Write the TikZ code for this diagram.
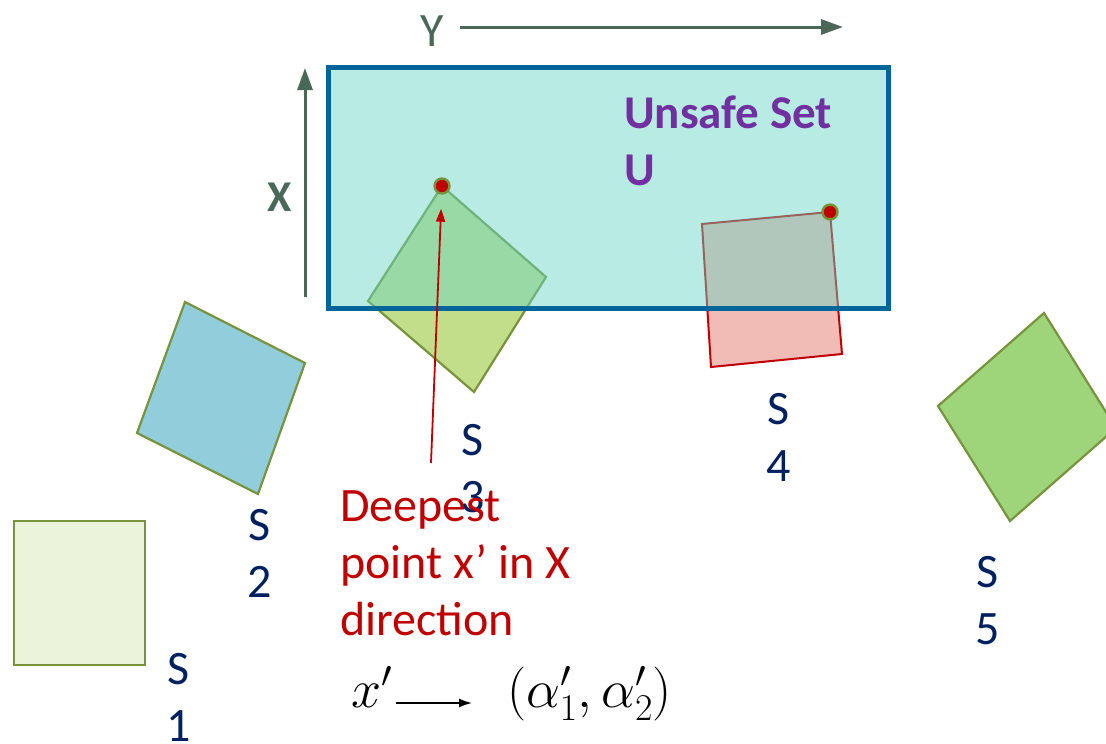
\RequirePackage{fix-cm}
\documentclass[tikz,border=0pt]{standalone}
\usepackage[no-math]{fontspec}
\setmainfont{Carlito}
\usetikzlibrary{arrows.meta}
\definecolor{axisgreen}{RGB}{74,104,88}
\definecolor{rectblue}{RGB}{0,102,153}
\definecolor{unsafefill}{RGB}{104,213,196}
\definecolor{upurple}{RGB}{112,48,160}
\definecolor{navy}{RGB}{0,32,96}
\definecolor{dred}{RGB}{192,0,0}
\definecolor{olive}{RGB}{119,147,60}
\definecolor{sonefill}{RGB}{235,243,218}
\definecolor{stwofill}{RGB}{146,205,220}
\definecolor{sthreefill}{RGB}{195,222,138}
\definecolor{sfourfill}{RGB}{242,188,182}
\definecolor{sfivefill}{RGB}{158,213,122}
\begin{document}
\begin{tikzpicture}[x=1pt,y=-1pt,
  sq/.style={draw=olive, line width=2.2pt, line join=miter},
  lbl/.style={font=\fontsize{48}{57}\selectfont, text=navy, align=center, inner sep=0pt, anchor=base},
  dot/.style={circle, fill=dred, draw=olive, line width=2.4pt, minimum size=15pt, inner sep=0pt},
  axisarrow/.style={draw=axisgreen, line width=3pt, -{Triangle[length=22pt,width=15pt]}},
  redarrow/.style={draw=dred, line width=1.8pt, -{Triangle[length=13pt,width=9pt]}},
  mathlbl/.style={font=\fontsize{54}{64}\selectfont, inner sep=0pt}]
\useasboundingbox (0,0) rectangle (1106,744);
\clip (0,0) rectangle (1106,744);
% squares
\draw[sq, fill=sonefill] (14,521) rectangle (145,665);
\draw[sq, fill=stwofill] (185,302) -- (305,363) -- (258,494) -- (137,433) -- cycle;
\draw[sq, fill=sthreefill] (442,186) -- (546,277) -- (474,392) -- (368,301) -- cycle;
\draw[draw=dred, line width=2pt, fill=sfourfill] (702,224) -- (830,212) -- (842,354) -- (711,367) -- cycle;
\draw[sq, fill=sfivefill] (938,406) -- (1044,313) -- (1116,428) -- (1010,521) -- cycle;
% unsafe set
\node[draw=rectblue, line width=5pt, fill=unsafefill, fill opacity=0.47, minimum width=560pt, minimum height=241pt, inner sep=0pt, outer sep=0pt, anchor=north west] (U) at (328,67) {};
\node[font=\fontsize{47}{57}\selectfont\bfseries, text=upurple, align=left, inner sep=0pt, anchor=base west] (ulab) at (624,185) {Unsafe Set\\U};
% dots
\node[dot] (d3) at (442,186) {};
\node[dot] (d4) at (830,212) {};
% axes
\coordinate (ys) at (460,27);
\coordinate (ye) at (843,27);
\draw[axisarrow] (ys) -- (ye);
\node[font=\fontsize{48}{57}\selectfont, text=axisgreen, inner sep=0pt, anchor=base] (ylab) at (432,46) {Y};
\coordinate (xs) at (305,297);
\coordinate (xe) at (305,68);
\draw[axisarrow] (xs) -- (xe);
\node[font=\fontsize{44}{57}\selectfont\bfseries, text=axisgreen, inner sep=0pt, anchor=base] (xlab) at (280,211) {X};
% labels
\node[lbl] (l1) at (179,741) {S\\1};
\node[lbl] (l2) at (260,597) {S\\2};
\node[lbl] (l3) at (473,512) {S\\3};
\node[lbl] (l4) at (779,481) {S\\4};
\node[lbl] (l5) at (988,644) {S\\5};
% deepest point arrow
\node[font=\fontsize{48}{57}\selectfont, text=dred, align=left, inner sep=0pt, anchor=base west] (deep) at (340,635) {Deepest\\point x’ in X\\direction};
\coordinate (rs) at (431,463);
\draw[redarrow, shorten >=14pt] (rs) -- (d3);
% formula
\node[mathlbl, anchor=base] (xp) at (372,707) {$x'$};
\node[mathlbl, anchor=base west] (al) at (507,707) {$(\alpha_1',\alpha_2')$};
\draw[line width=1.6pt, -{Latex[length=13pt,width=9pt]}] ([xshift=3pt,yshift=4pt]xp.base east) -- ([xshift=-35pt,yshift=4pt]al.base west);
\end{tikzpicture}
\end{document}
